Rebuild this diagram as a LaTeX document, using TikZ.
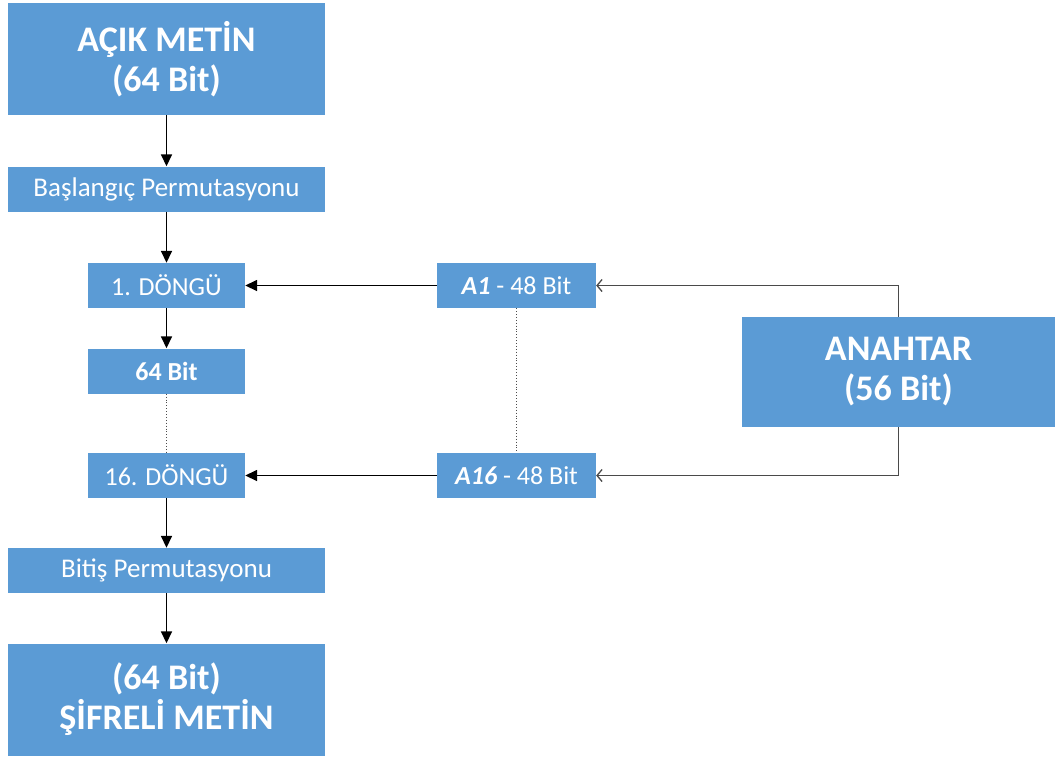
\documentclass[tikz,border=0pt]{standalone}
\usepackage{fontspec}
\setmainfont{Carlito}
\usetikzlibrary{arrows.meta}
\definecolor{blockblue}{HTML}{5B9BD5}
\definecolor{keyline}{HTML}{4A4A4A}
\begin{document}
\begin{tikzpicture}[x=1pt,y=-1pt,
  block/.style={fill=blockblue, text=white, inner sep=0pt, align=center},
  bigblock/.style={block, minimum width=317pt, minimum height=112pt,
    font=\fontsize{36}{40}\selectfont\bfseries},
  wideblock/.style={block, minimum width=317pt, minimum height=45pt,
    font=\fontsize{27}{30}\selectfont},
  roundblock/.style={block, minimum width=157pt, minimum height=45pt,
    font=\fontsize{26}{30}\selectfont},
  subkey/.style={block, minimum width=159pt, minimum height=45pt,
    font=\fontsize{26}{30}\selectfont},
  flow/.style={line width=1.6pt, -{Triangle[length=12pt,width=11pt]}},
  keyflow/.style={draw=keyline, line width=1.3pt, -{Straight Barb[length=5pt,width=12pt]}},
  gap/.style={draw=black!70, line width=0.9pt, dotted}]

\fill[white] (0,0) rectangle (1056,758);
\useasboundingbox (0,0) rectangle (1056,758);

% main data path
\node[bigblock] (plain) at (166.5,59) {AÇIK METİN\\(64 Bit)};
\node[wideblock] (ip) at (166.5,189) {Başlangıç Permutasyonu};
\node[roundblock] (r1) at (166.5,285.5) {1. DÖNGÜ};
\node[roundblock, font=\fontsize{26}{30}\selectfont\bfseries] (mid) at (166.5,371) {64 Bit};
\node[roundblock] (r16) at (166.5,475.5) {16. DÖNGÜ};
\node[wideblock] (fp) at (166.5,570.5) {Bitiş Permutasyonu};
\node[bigblock] (cipher) at (166.5,699.5) {(64 Bit)\\ŞİFRELİ METİN};

% round keys and master key
\node[subkey] (k1) at (516.5,285.5) {\textbf{\textit{A1}} - 48 Bit};
\node[subkey] (k16) at (516.5,475.5) {\textbf{\textit{A16}} - 48 Bit};
\node[block, minimum width=313pt, minimum height=110pt,
  font=\fontsize{36}{40}\selectfont\bfseries] (key) at (898.5,372) {ANAHTAR\\(56 Bit)};

% connectors
\draw[flow] (plain) -- (ip);
\draw[flow] (ip) -- (r1);
\draw[flow] (r1) -- (mid);
\draw[gap] (mid) -- (r16);
\draw[flow] (r16) -- (fp);
\draw[flow] (fp) -- (cipher);

\draw[flow] (k1) -- (r1);
\draw[flow] (k16) -- (r16);
\draw[gap] (k1) -- (k16);

\draw[keyflow] (key.north) |- (k1.east);
\draw[keyflow] (key.south) |- (k16.east);
\end{tikzpicture}
\end{document}
